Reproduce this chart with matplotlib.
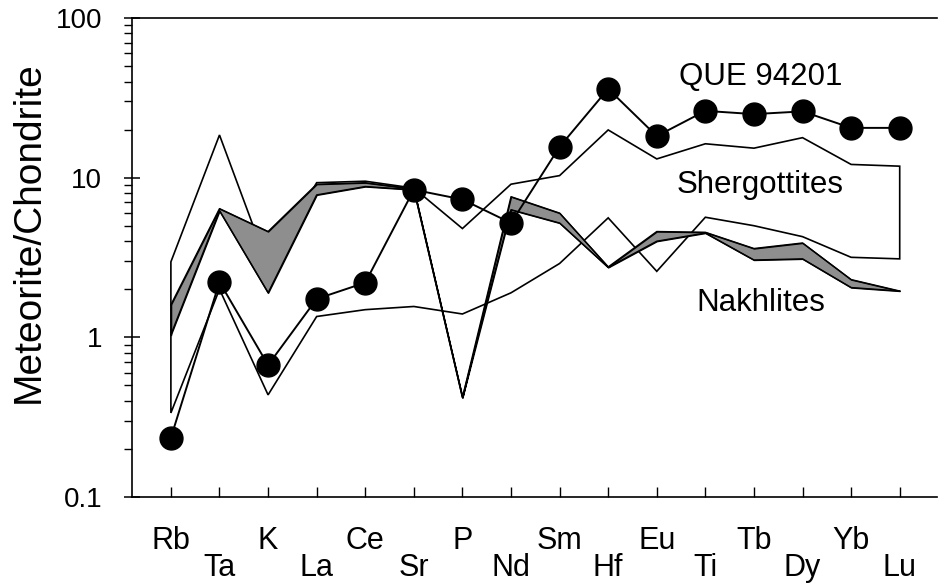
import numpy as np
import matplotlib
matplotlib.use("Agg")
import matplotlib.pyplot as plt
from matplotlib.ticker import LogLocator, NullFormatter, FixedLocator, FixedFormatter

plt.rcParams['font.family'] = ['Liberation Sans', 'DejaVu Sans']

elements = ['Rb', 'Ta', 'K', 'La', 'Ce', 'Sr', 'P', 'Nd', 'Sm', 'Hf',
            'Eu', 'Ti', 'Tb', 'Dy', 'Yb', 'Lu']
que94201 = [0.235, 2.22, 0.67, 1.74, 2.2, 8.4, 7.3, 5.2, 15.6, 36.0,
            18.2, 26.2, 25.0, 26.0, 20.5, 20.5]
sherg_upper = [2.97, 18.5, 2.8, 9.3, 9.5, 8.6, 4.8, 9.1, 10.3, 19.9,
               13.1, 16.3, 15.3, 17.8, 12.1, 11.8]
sherg_lower = [0.336, 2.0, 0.436, 1.35, 1.49, 1.56, 1.40, 1.9, 2.9, 5.6,
               2.59, 5.65, 5.0, 4.27, 3.17, 3.1]
nakh_upper = [1.6, 6.4, 4.6, 9.1, 9.3, 8.5, 0.42, 7.6, 6.0, 2.76,
              4.6, 4.55, 3.6, 3.9, 2.3, 1.95]
nakh_lower = [1.04, 6.2, 1.9, 7.8, 8.8, 8.4, 0.42, 6.3, 5.2, 2.74,
              4.0, 4.5, 3.05, 3.1, 2.05, 1.95]
ytick_vals = [0.1, 1, 10, 100]
ytick_labels = ['0.1', '1', '10', '100']

x = np.arange(len(elements))

fig = plt.figure(figsize=(9.39, 5.88), dpi=100)
ax = fig.add_axes([0.1406, 0.1548, 0.8574, 0.8146])

# Shergottite field (outline only)
poly_x = np.concatenate([x, x[::-1]])
poly_y = np.concatenate([sherg_upper, sherg_lower[::-1]])
ax.fill(poly_x, poly_y, facecolor='none', edgecolor='black', lw=1.2, zorder=2)

# Nakhlite field (shaded)
ax.fill_between(x, nakh_lower, nakh_upper, facecolor='#8e8e8e',
                edgecolor='black', lw=1.0, zorder=3)
ax.plot(x, nakh_upper, color='black', lw=1.0, zorder=3)
ax.plot(x, nakh_lower, color='black', lw=1.0, zorder=3)
ax.plot([x[0], x[0]], [nakh_lower[0], nakh_upper[0]], color='black', lw=1.0, zorder=3)

# QUE 94201
ax.plot(x, que94201, color='black', lw=1.4, marker='o', markersize=16.5,
        markerfacecolor='black', zorder=4)

ax.set_yscale('log')
ax.set_ylim(0.1, 100)
ax.set_xlim(-0.80, 15.77)

ax.yaxis.set_major_locator(FixedLocator(ytick_vals))
ax.yaxis.set_major_formatter(FixedFormatter(ytick_labels))
ax.yaxis.set_minor_locator(LogLocator(base=10, subs=np.arange(2, 10)))
ax.yaxis.set_minor_formatter(NullFormatter())
ax.tick_params(axis='y', which='major', direction='inout', length=11, width=1.1,
               labelsize=20, pad=16)
ax.tick_params(axis='y', which='minor', direction='out', length=6, width=1.0)

ax.set_xticks(x)
ax.set_xticklabels(elements)
ax.tick_params(axis='x', which='major', direction='in', length=7, width=1.0,
               labelsize=22)
for i, t in enumerate(ax.xaxis.get_major_ticks()):
    t.set_pad(21 if i % 2 == 0 else 40)

for s in ['top', 'left', 'bottom']:
    ax.spines[s].set_linewidth(1.2)
ax.spines['right'].set_visible(False)

ax.set_ylabel('Meteorite/Chondrite', fontsize=28)
ax.yaxis.label.set_va('center')
ax.yaxis.set_label_coords(-0.128, 0.553)

ax.text(10.45, 42.8, 'QUE 94201', fontsize=22.5, ha='left', va='center')
ax.text(10.41, 9.0, 'Shergottites', fontsize=22.5, ha='left', va='center')
ax.text(10.82, 1.64, 'Nakhlites', fontsize=22.5, ha='left', va='center')

fig.savefig('out.png', dpi=100)
